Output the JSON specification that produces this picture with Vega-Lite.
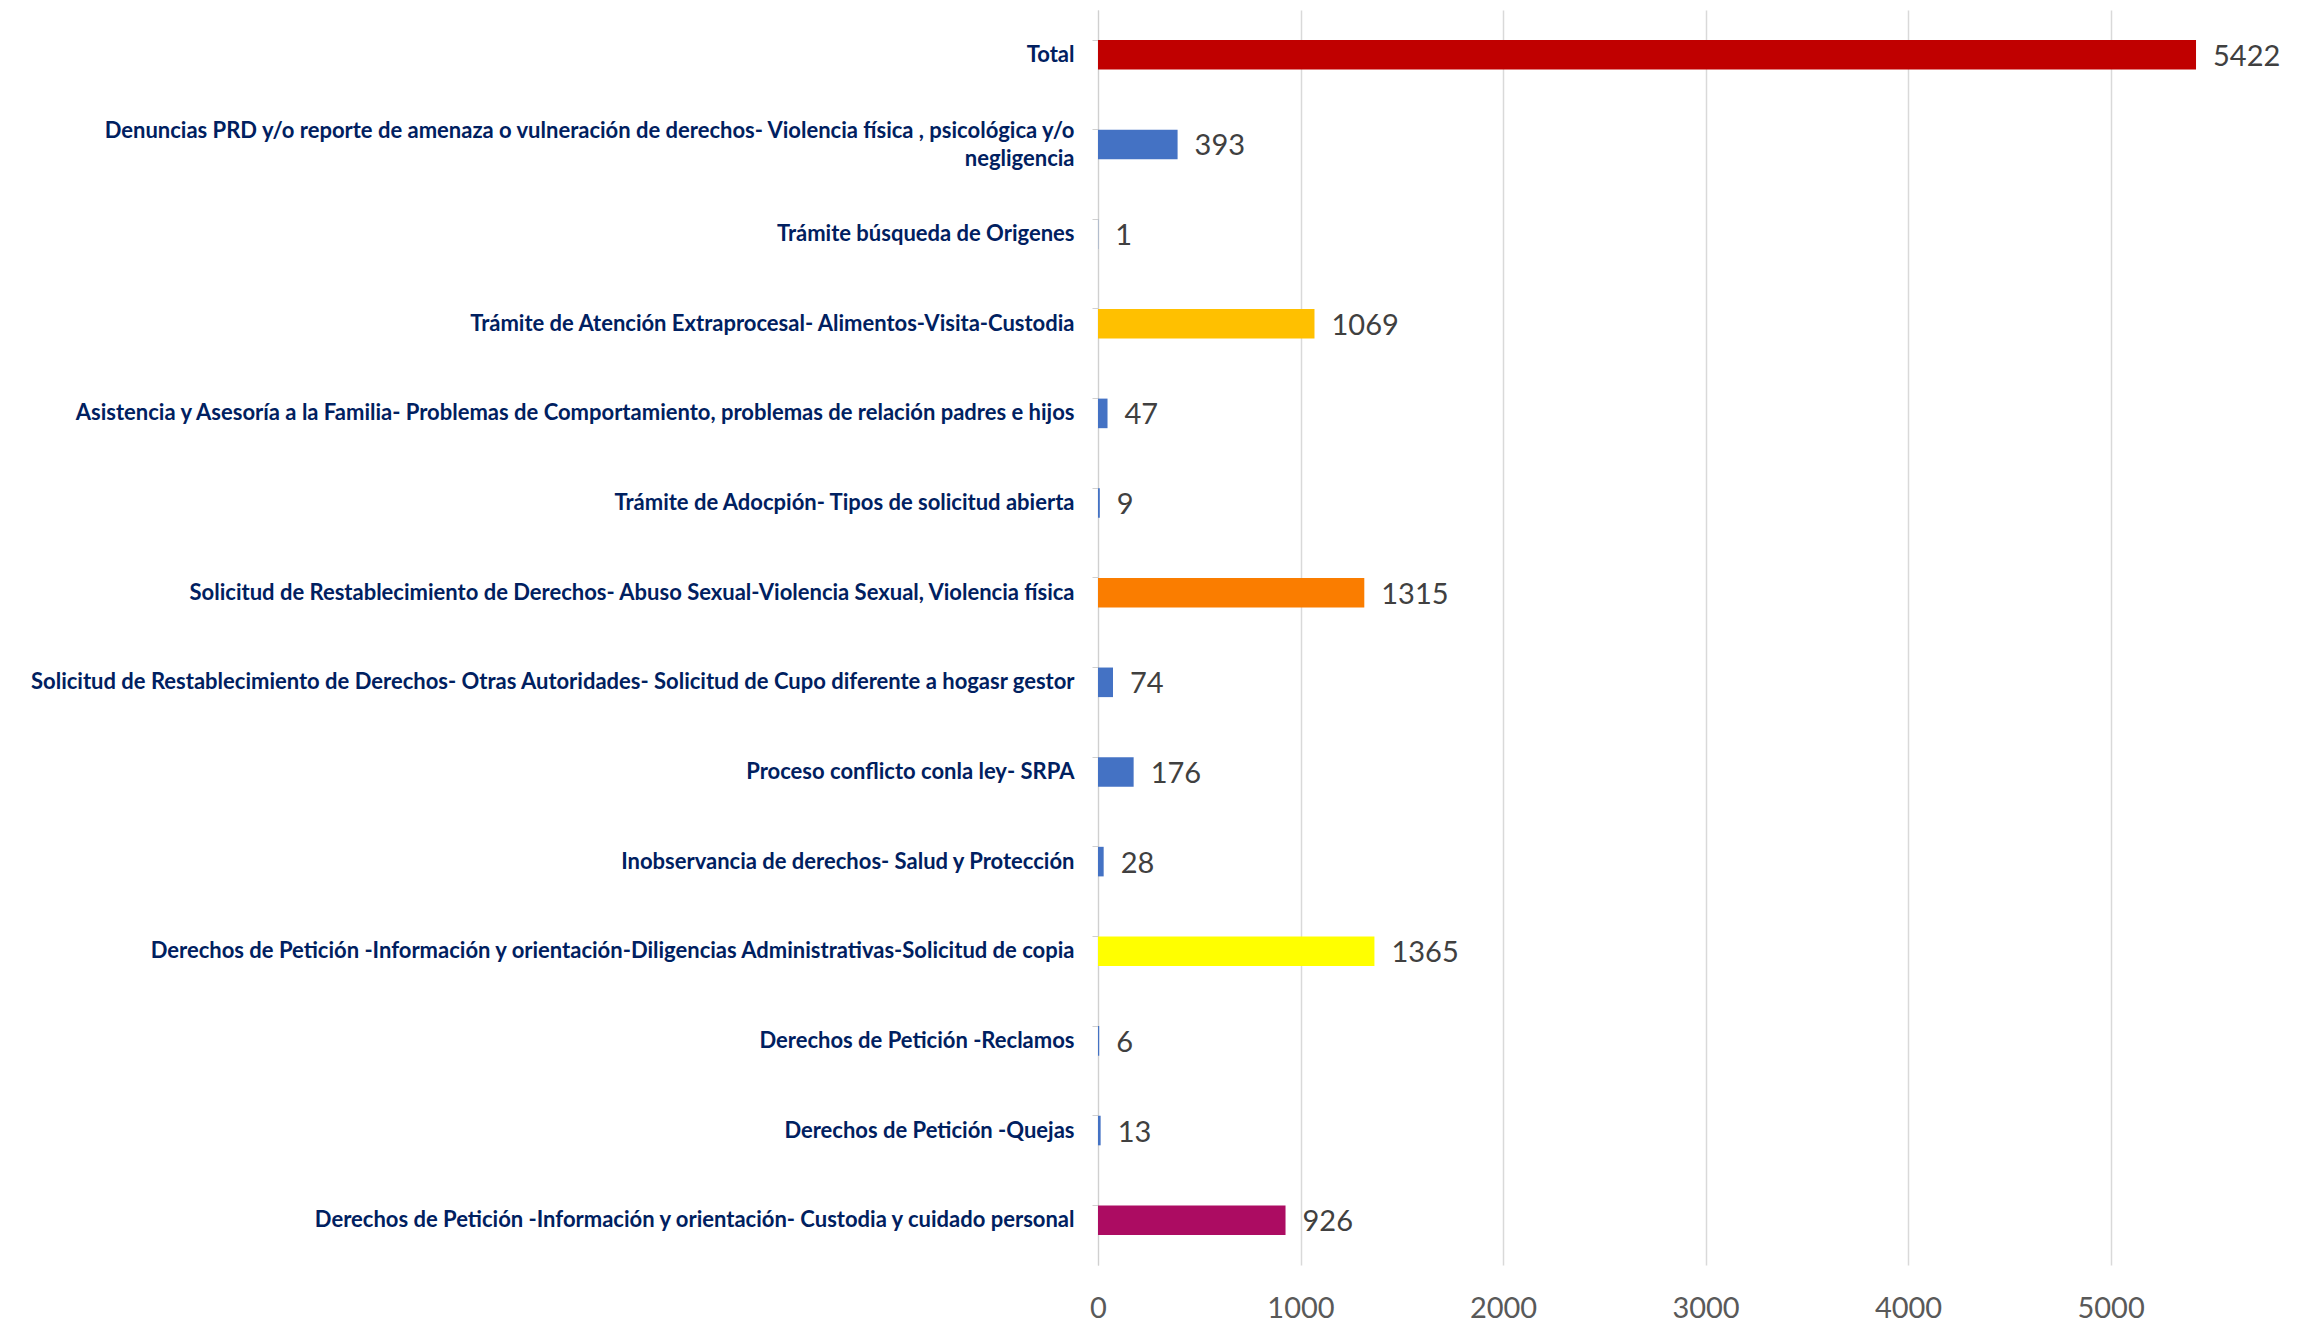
{
  "$schema": "https://vega.github.io/schema/vega-lite/v6.json",
  "autosize": {"type": "none"},
  "padding": {"left": 1098, "top": 10, "right": 0, "bottom": 61},
  "width": 1209,
  "height": 1255,
  "background": "white",
  "config": {"view": {"stroke": null}},
  "data": {
    "values": [
      {"categoria": "Total", "valor": 5422},
      {"categoria": "Denuncias PRD y/o reporte de amenaza o vulneración de derechos- Violencia física , psicológica y/o negligencia", "valor": 393},
      {"categoria": "Trámite búsqueda de Origenes", "valor": 1},
      {"categoria": "Trámite de Atención Extraprocesal- Alimentos-Visita-Custodia", "valor": 1069},
      {"categoria": "Asistencia y Asesoría a la Familia- Problemas de Comportamiento, problemas de relación padres e hijos", "valor": 47},
      {"categoria": "Trámite de Adocpión- Tipos de solicitud abierta", "valor": 9},
      {"categoria": "Solicitud de Restablecimiento de Derechos- Abuso Sexual-Violencia Sexual, Violencia física", "valor": 1315},
      {"categoria": "Solicitud de Restablecimiento de Derechos- Otras Autoridades- Solicitud de Cupo diferente a hogasr gestor", "valor": 74},
      {"categoria": "Proceso conflicto conla ley- SRPA", "valor": 176},
      {"categoria": "Inobservancia de derechos- Salud y Protección", "valor": 28},
      {"categoria": "Derechos de Petición -Información y orientación-Diligencias Administrativas-Solicitud de copia", "valor": 1365},
      {"categoria": "Derechos de Petición -Reclamos", "valor": 6},
      {"categoria": "Derechos de Petición -Quejas", "valor": 13},
      {"categoria": "Derechos de Petición -Información y orientación- Custodia y cuidado personal", "valor": 926}
    ]
  },
  "encoding": {
    "y": {
      "field": "categoria",
      "type": "nominal",
      "sort": null,
      "scale": {"paddingInner": 0.67, "paddingOuter": 0.335},
      "axis": {
        "title": null,
        "grid": false,
        "bandPosition": 0,
        "ticks": true,
        "tickSize": 6,
        "tickColor": "#d0d0d0",
        "domainColor": "#d0d0d0",
        "labelFont": "Lato",
        "labelFontWeight": "bold",
        "labelFontSize": 22,
        "labelColor": "#002060",
        "labelPadding": 18,
        "labelLimit": 1200,
        "labelLineHeight": 28,
        "labelOffset": {"condition": {"test": "indexof(datum.value, 'negligencia') > 0", "value": -13}, "value": 0},
        "labelExpr": "indexof(datum.label, 'negligencia') > 0 ? ['Denuncias PRD y/o reporte de amenaza o vulneración de derechos- Violencia física , psicológica y/o', 'negligencia'] : datum.label"
      }
    },
    "x": {
      "field": "valor",
      "type": "quantitative",
      "scale": {"domain": [0, 5970], "nice": false},
      "axis": {
        "title": null,
        "values": [0, 1000, 2000, 3000, 4000, 5000],
        "format": "d",
        "grid": true,
        "gridColor": "#d9d9d9",
        "gridWidth": 1.5,
        "domain": false,
        "ticks": false,
        "labelFont": "Lato",
        "labelFontSize": 29,
        "labelColor": "#595959",
        "labelPadding": 29,
        "labelFlush": false
      }
    }
  },
  "layer": [
    {
      "mark": {"type": "bar"},
      "encoding": {
        "color": {
          "field": "categoria",
          "type": "nominal",
          "legend": null,
          "scale": {
            "domain": [
              "Total",
              "Denuncias PRD y/o reporte de amenaza o vulneración de derechos- Violencia física , psicológica y/o negligencia",
              "Trámite búsqueda de Origenes",
              "Trámite de Atención Extraprocesal- Alimentos-Visita-Custodia",
              "Asistencia y Asesoría a la Familia- Problemas de Comportamiento, problemas de relación padres e hijos",
              "Trámite de Adocpión- Tipos de solicitud abierta",
              "Solicitud de Restablecimiento de Derechos- Abuso Sexual-Violencia Sexual, Violencia física",
              "Solicitud de Restablecimiento de Derechos- Otras Autoridades- Solicitud de Cupo diferente a hogasr gestor",
              "Proceso conflicto conla ley- SRPA",
              "Inobservancia de derechos- Salud y Protección",
              "Derechos de Petición -Información y orientación-Diligencias Administrativas-Solicitud de copia",
              "Derechos de Petición -Reclamos",
              "Derechos de Petición -Quejas",
              "Derechos de Petición -Información y orientación- Custodia y cuidado personal"
            ],
            "range": ["#C00000", "#4472C4", "#4472C4", "#FFC000", "#4472C4", "#4472C4", "#FA7D00", "#4472C4", "#4472C4", "#4472C4", "#FFFF00", "#4472C4", "#4472C4", "#AC0C62"]
          }
        }
      }
    },
    {
      "mark": {"type": "text", "align": "left", "baseline": "middle", "dx": 17, "dy": 2, "font": "Lato", "fontSize": 29, "color": "#404040"},
      "encoding": {"text": {"field": "valor", "type": "quantitative"}}
    }
  ]
}
